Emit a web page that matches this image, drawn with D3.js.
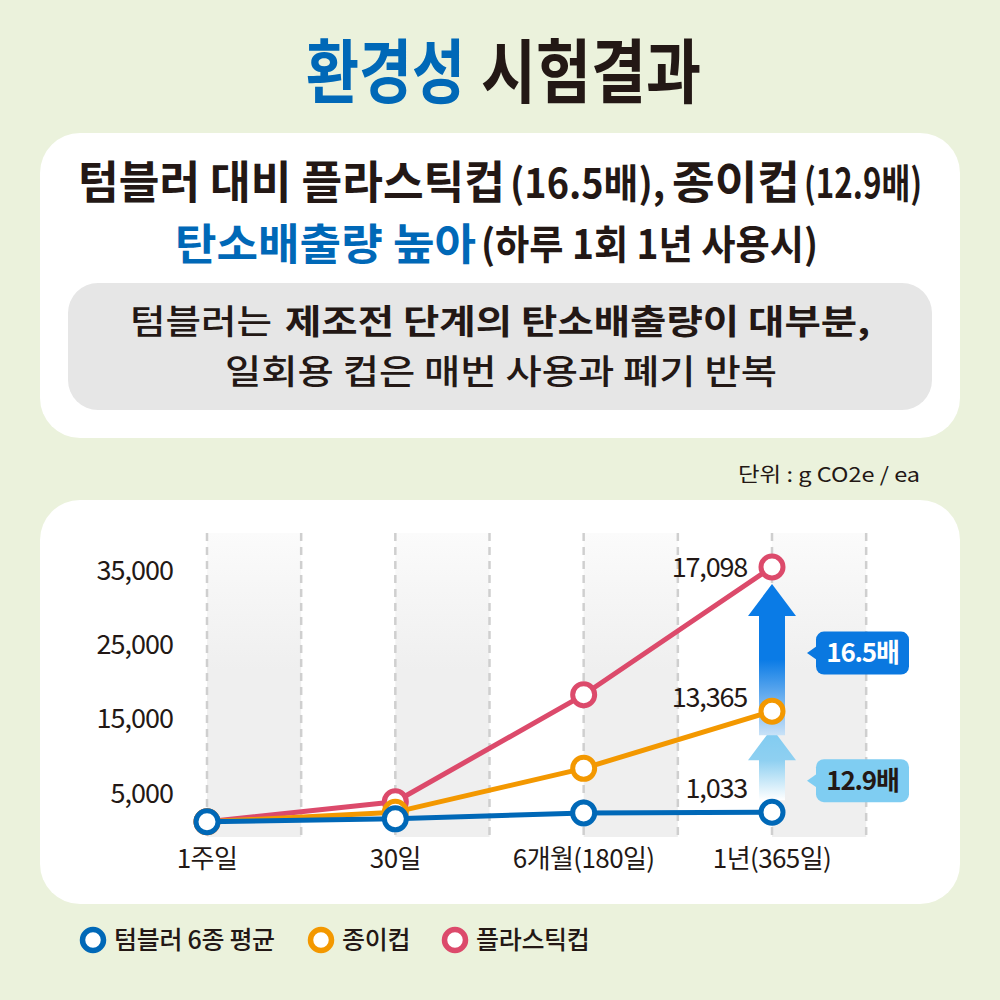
<!DOCTYPE html>
<html>
<head>
<meta charset="utf-8">
<script src="https://cdn.jsdelivr.net/npm/d3@7"></script>
<style>
  body { margin: 0; background: #ebf2dc; }
  svg { display: block; font-family: "Noto Sans CJK KR", "Noto Sans", sans-serif; }
</style>
</head>
<body>
<svg id="chart" width="1000" height="1000"></svg>
<script>
// data (values in the units of the y axis)
const periods = ['1주일', '30일', '6개월(180일)', '1년(365일)'];
const tumbler = [1100, 1500, 2300, 2400];
const paper = [1100, 2400, 8300, 16000];
const plastic = [1100, 3800, 18200, 35400];
const yTicks = [5000, 15000, 25000, 35000];
const endLabels = ['1,033', '13,365', '17,098'];
const ratioLabels = ['16.5배', '12.9배'];
const seriesNames = ['텀블러 6종 평균', '종이컵', '플라스틱컵'];
const seriesColors = ['#0068b7', '#f39800', '#dc4a6b'];

const svg = d3.select('#chart');
const dark = '#231815';
const blue = '#0068b7';

// background cards
svg.append('rect').attr('width', 1000).attr('height', 1000).attr('fill', '#ebf2dc');
svg.append('rect').attr('x', 40).attr('y', 133).attr('width', 920).attr('height', 305)
    .attr('rx', 40).attr('fill', '#fff');
svg.append('rect').attr('x', 68).attr('y', 283).attr('width', 864).attr('height', 127)
    .attr('rx', 30).attr('fill', '#e6e6e6');
svg.append('rect').attr('x', 40).attr('y', 500).attr('width', 920).attr('height', 404)
    .attr('rx', 40).attr('fill', '#fff');

// fitted text piece: x0..x1 on baseline y
function piece(x0, x1, yb, size, weight, fill, str) {
    return svg.append('text').attr('x', x0).attr('y', yb)
        .attr('font-size', size).attr('font-weight', weight).attr('fill', fill)
        .attr('textLength', x1 - x0).attr('lengthAdjust', 'spacingAndGlyphs')
        .text(str);
}

// title
piece(306, 465, 98, 70, 700, blue, '환경성');
piece(481, 701, 98, 70, 700, dark, '시험결과');

// headline
piece(78, 505, 199, 45, 700, dark, '텀블러 대비 플라스틱컵');
piece(510, 665, 198, 40, 700, dark, '(16.5배),');
piece(672, 800, 199, 45, 700, dark, '종이컵');
piece(804, 922, 198, 40, 700, dark, '(12.9배)');
piece(175, 476, 260, 43, 700, blue, '탄소배출량 높아');
piece(481, 818, 259, 40, 700, dark, '(하루 1회 1년 사용시)');

// grey box text
piece(130, 272, 334, 34, 500, dark, '텀블러는');
piece(285, 870, 334, 34, 700, dark, '제조전 단계의 탄소배출량이 대부분,');
piece(225, 777, 384, 34, 500, dark, '일회용 컵은 매번 사용과 폐기 반복');

piece(738, 920, 482, 20, 400, dark, '단위 : g CO2e / ea');

// scales
const x = d3.scalePoint().domain(periods).range([207, 772]);
const y = d3.scaleLinear().domain([0, 35000]).range([830, 570]);
const half = x.step() / 2;
const plotTop = 533, plotBottom = 837;

const defs = svg.append('defs');
const bandGrad = defs.append('linearGradient').attr('id', 'band').attr('x1', 0).attr('y1', 0).attr('x2', 0).attr('y2', 1);
bandGrad.append('stop').attr('offset', 0).attr('stop-color', '#fbfbfb');
bandGrad.append('stop').attr('offset', 0.45).attr('stop-color', '#efefef');
bandGrad.append('stop').attr('offset', 1).attr('stop-color', '#efefef');

const bigGrad = defs.append('linearGradient').attr('id', 'bigArrow').attr('x1', 0).attr('y1', 0).attr('x2', 0).attr('y2', 1);
bigGrad.append('stop').attr('offset', 0).attr('stop-color', '#0a7be6');
bigGrad.append('stop').attr('offset', 0.5).attr('stop-color', '#0a7be6');
bigGrad.append('stop').attr('offset', 1).attr('stop-color', '#c9e2f7');

const smallGrad = defs.append('linearGradient').attr('id', 'smallArrow').attr('x1', 0).attr('y1', 0).attr('x2', 0).attr('y2', 1);
smallGrad.append('stop').attr('offset', 0).attr('stop-color', '#7fcbf1');
smallGrad.append('stop').attr('offset', 0.45).attr('stop-color', '#8fd0f1');
smallGrad.append('stop').attr('offset', 1).attr('stop-color', '#ffffff');

// grey bands and dashed guides
const g = svg.append('g');
g.selectAll('.band').data(periods).join('rect')
    .attr('x', d => x(d)).attr('y', plotTop).attr('width', half).attr('height', plotBottom - plotTop)
    .attr('fill', 'url(#band)');
const guides = periods.flatMap(d => [x(d), x(d) + half]);
g.selectAll('.guide').data(guides).join('line')
    .attr('x1', d => d).attr('x2', d => d).attr('y1', plotTop).attr('y2', plotBottom)
    .attr('stroke', '#cfcfcf').attr('stroke-width', 2.5).attr('stroke-dasharray', '8,6');

// y axis labels
svg.append('g').selectAll('text').data(yTicks).join('text')
    .attr('x', 173).attr('y', d => y(d)).attr('dy', '0.36em').attr('text-anchor', 'end')
    .attr('font-size', 27).attr('fill', dark).attr('letter-spacing', -1)
    .text(d => d3.format(',')(d));

// x axis labels
svg.append('g').selectAll('text').data(periods).join('text')
    .attr('x', d => x(d)).attr('y', 868).attr('text-anchor', 'middle')
    .attr('font-size', 26).attr('fill', dark).attr('letter-spacing', -0.6)
    .text(d => d);

// arrows between the end points
const last = periods[periods.length - 1];
const ax = x(last);
function arrow(yTip, yEnd, fill) {
    const p = d3.path();
    p.moveTo(ax, yTip);
    p.lineTo(ax + 24, yTip + 32);
    p.lineTo(ax + 13, yTip + 32);
    p.lineTo(ax + 13, yEnd);
    p.lineTo(ax - 13, yEnd);
    p.lineTo(ax - 13, yTip + 32);
    p.lineTo(ax - 24, yTip + 32);
    p.closePath();
    svg.append('path').attr('d', p.toString()).attr('fill', fill);
}
const yPl = y(plastic[3]), yPa = y(paper[3]), yTu = y(tumbler[3]);
arrow(yPa + 17, yTu - 12, 'url(#smallArrow)');
arrow(yPl + 17, yPa + 24, 'url(#bigArrow)');

// ratio callouts
function callout(cy, label, fill, textFill) {
    const bx = 816, bw = 93, bh = 43;
    const c = svg.append('g');
    c.append('rect').attr('x', bx).attr('y', cy - bh / 2).attr('width', bw).attr('height', bh)
        .attr('rx', 8).attr('fill', fill);
    c.append('path').attr('d', `M${bx + 1},${cy - 7} L${bx - 9},${cy} L${bx + 1},${cy + 7} Z`).attr('fill', fill);
    c.append('text').attr('x', bx + bw / 2).attr('y', cy).attr('dy', '0.36em').attr('text-anchor', 'middle')
        .attr('font-size', 26).attr('font-weight', 700).attr('fill', textFill).attr('letter-spacing', -1.2)
        .text(label);
}
callout((yPl + yPa) / 2 + 14, ratioLabels[0], '#0a78e0', '#ffffff');
callout((yPa + yTu) / 2 + 19, ratioLabels[1], '#7fcdf2', dark);

// series: plastic, paper, tumbler (tumbler on top)
const series = [
    { values: plastic, color: seriesColors[2], label: endLabels[2], dy: 0 },
    { values: paper, color: seriesColors[1], label: endLabels[1], dy: -14 },
    { values: tumbler, color: seriesColors[0], label: endLabels[0], dy: -24 }
];
const line = d3.line().x((d, i) => x(periods[i])).y(d => y(d));
series.forEach(s => {
    const sg = svg.append('g');
    sg.append('path').datum(s.values).attr('d', line)
        .attr('fill', 'none').attr('stroke', s.color).attr('stroke-width', 5).attr('stroke-linejoin', 'round');
    sg.selectAll('circle').data(s.values).join('circle')
        .attr('cx', (d, i) => x(periods[i])).attr('cy', d => y(d)).attr('r', 11)
        .attr('fill', '#fff').attr('stroke', s.color).attr('stroke-width', 5);
});
series.forEach(s => {
    svg.append('text').attr('x', ax - 25).attr('y', y(s.values[3]) + s.dy).attr('dy', '0.36em')
        .attr('text-anchor', 'end').attr('font-size', 27).attr('fill', dark).attr('letter-spacing', -1.2)
        .text(s.label);
});

// legend
const legendX = [93, 321, 455];
const legend = svg.append('g');
seriesNames.forEach((name, i) => {
    legend.append('circle').attr('cx', legendX[i]).attr('cy', 940).attr('r', 10.5)
        .attr('fill', '#fff').attr('stroke', seriesColors[i]).attr('stroke-width', 5.5);
    legend.append('text').attr('x', legendX[i] + 21).attr('y', 940).attr('dy', '0.36em')
        .attr('font-size', 25).attr('font-weight', 500).attr('fill', dark).attr('letter-spacing', -0.3)
        .text(name);
});
</script>
</body>
</html>
